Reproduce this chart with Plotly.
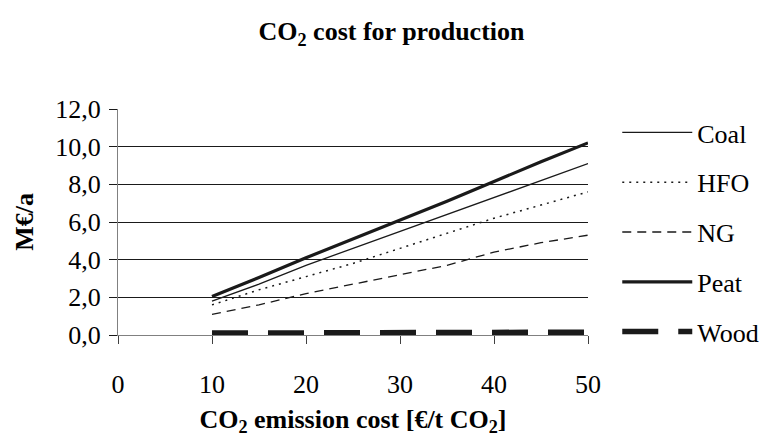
import plotly.graph_objects as go

x_cost = [10, 15, 20, 25, 30, 35, 40, 45, 50]
coal = [1.8, 2.7, 3.7, 4.6, 5.5, 6.4, 7.3, 8.2, 9.1]
hfo = [1.6, 2.4, 3.1, 3.8, 4.6, 5.4, 6.2, 6.9, 7.6]
ng = [1.1, 1.6, 2.2, 2.7, 3.2, 3.7, 4.4, 4.9, 5.3]
peat = [2.05, 3.05, 4.1, 5.1, 6.1, 7.1, 8.15, 9.2, 10.2]
wood = [0.1, 0.1, 0.1, 0.1, 0.1, 0.1, 0.1, 0.1, 0.15]

series = [
    ("Coal", coal, dict(color="#1a1a1a", width=1.3, dash="solid")),
    ("HFO", hfo, dict(color="#1a1a1a", width=1.5, dash="2px,5px")),
    ("NG", ng, dict(color="#1a1a1a", width=1.3, dash="9px,6px")),
    ("Peat", peat, dict(color="#1a1a1a", width=3.2, dash="solid")),
    ("Wood", wood, dict(color="#1a1a1a", width=5.5, dash="36px,20px")),
]

FONT = "Liberation Serif, Times New Roman, serif"

fig = go.Figure()
for name, vals, line in series:
    fig.add_trace(go.Scatter(x=x_cost, y=vals, name=name, mode="lines",
                             line=line, legendgroup=name))

fig.update_layout(
    width=767, height=438,
    margin=dict(l=110, r=186, t=101, b=111),
    paper_bgcolor="white", plot_bgcolor="white",
    separators=", ",
    font=dict(family=FONT, size=26, color="black"),
    title=dict(text="<b>CO<sub>2</sub> cost for production</b>",
               x=0.5, xref="container", xanchor="center",
               y=0.947, yref="container", yanchor="middle",
               font=dict(family=FONT, size=26, color="black")),
    showlegend=True,
    legend=dict(x=1.06, y=1.0, xanchor="left", yanchor="top",
                xref="paper", yref="paper",
                traceorder="grouped", tracegroupgap=13,
                itemwidth=70, maxheight=400,
                font=dict(family=FONT, size=26, color="black"),
                bgcolor="rgba(0,0,0,0)"),
    xaxis=dict(range=[0, 50], tickvals=[0, 10, 20, 30, 40, 50],
               showgrid=False, zeroline=False,
               showline=True, linecolor="#808080", linewidth=1,
               ticks="outside", ticklen=8, tickcolor="#404040", tickwidth=1,
               ticklabelstandoff=18,
               tickfont=dict(family=FONT, size=26, color="black"),
               title=dict(text="<b>CO<sub>2</sub> emission cost [€/t CO<sub>2</sub>]</b>",
                          standoff=11,
                          font=dict(family=FONT, size=26, color="black"))),
    yaxis=dict(range=[0, 12], dtick=2, tickformat=".1f",
               showgrid=True, gridcolor="#1a1a1a", gridwidth=1,
               zeroline=False,
               showline=True, linecolor="#808080", linewidth=1,
               ticks="outside", ticklen=8, tickcolor="#1a1a1a", tickwidth=1,
               ticklabelstandoff=3,
               tickfont=dict(family=FONT, size=26, color="black"),
               title=dict(text="<b>M€/a</b>", standoff=14,
                          font=dict(family=FONT, size=26, color="black"))),
)

fig.write_html("out.html")
